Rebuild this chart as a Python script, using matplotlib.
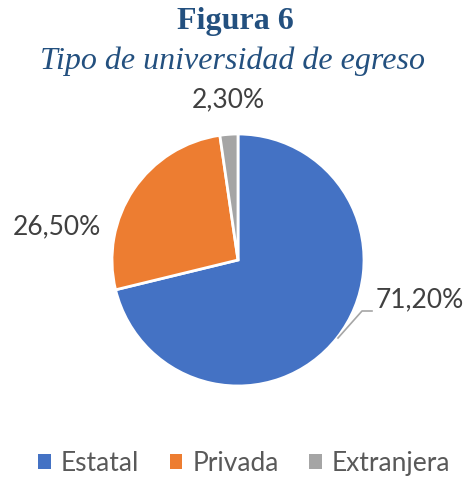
import matplotlib
matplotlib.use("Agg")
import matplotlib.pyplot as plt
from matplotlib.patches import Patch

# Data
categories = ["Estatal", "Privada", "Extranjera"]
values = [71.2, 26.5, 2.3]
labels = ["71,20%", "26,50%", "2,30%"]
colors = ["#4472C4", "#ED7D31", "#A5A5A5"]

W, H = 467, 479
fig = plt.figure(figsize=(W / 100, H / 100), dpi=100)
ax = fig.add_axes([0, 0, 1, 1])

# pie in pixel space (y axis flipped, so counterclock=True draws clockwise on screen)
wedges, _ = ax.pie(values, colors=colors, center=(238, 260), radius=126,
                   startangle=-90, counterclock=True, frame=True,
                   wedgeprops=dict(edgecolor="white", linewidth=2))
ax.set_xlim(0, W)
ax.set_ylim(H, 0)
ax.set_aspect("equal")
ax.axis("off")

txt_color = "#404040"
lbl_font = "Lato"
ax.text(420, 300, labels[0], ha="center", va="center", fontsize=19,
        color=txt_color, family=lbl_font)
ax.text(57, 227, labels[1], ha="center", va="center", fontsize=19,
        color=txt_color, family=lbl_font)
ax.text(228, 100, labels[2], ha="center", va="center", fontsize=19,
        color=txt_color, family=lbl_font)
# leader line for the big slice
ax.plot([338, 362, 372], [338, 311, 311], color="#A6A6A6", linewidth=1.2)

# titles
title_color = "#23507F"
fig.text(0.503, 0.956, "Figura 6", ha="center", va="center", fontsize=23,
         fontweight="bold", color=title_color, family="Liberation Serif")
fig.text(0.497, 0.873, "Tipo de universidad de egreso", ha="center",
         va="center", fontsize=23, style="italic", color=title_color,
         family="Liberation Serif")

handles = [Patch(facecolor=c, edgecolor="none") for c in colors]
leg = fig.legend(handles, categories, loc="center", bbox_to_anchor=(0.523, 0.033),
                 ncol=3, frameon=False, handlelength=0.48,
                 handleheight=0.48, handletextpad=0.38, columnspacing=1.15,
                 prop={"family": lbl_font, "size": 19})
for t in leg.get_texts():
    t.set_color("#595959")

fig.savefig("out.png", dpi=100)
